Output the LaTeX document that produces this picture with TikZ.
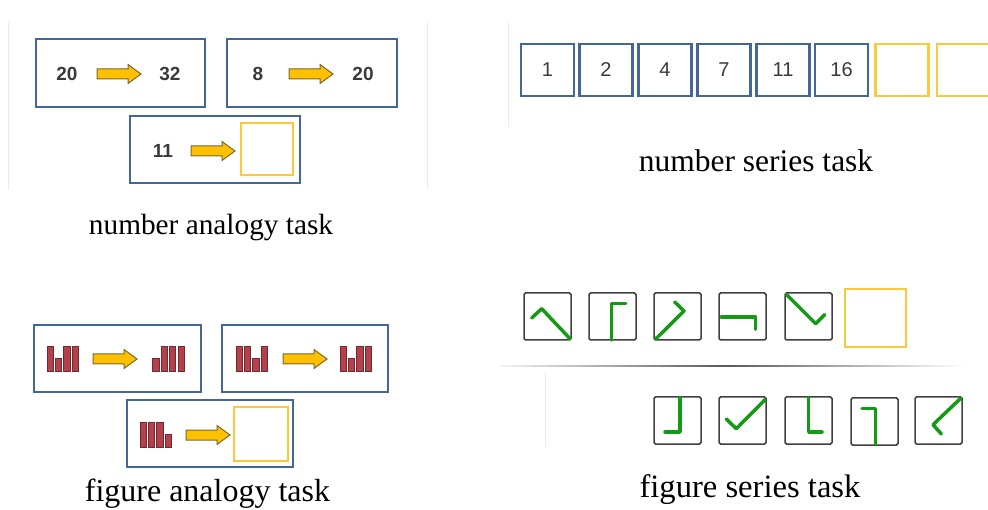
\documentclass[tikz,border=0pt]{standalone}
\usepackage{fontspec}
\setmainfont{Liberation Serif}
\newfontfamily\sansf{Liberation Sans}
\usetikzlibrary{calc}

\definecolor{frameblue}{HTML}{44679A}
\definecolor{gold}{HTML}{FFC000}
\definecolor{goldedge}{HTML}{7A6A2A}
\definecolor{emptybox}{HTML}{FFC83C}
\definecolor{barfill}{HTML}{B4404A}
\definecolor{baredge}{HTML}{6E2A33}
\definecolor{strokegreen}{HTML}{149A14}
\definecolor{textgray}{HTML}{3A3A3A}

\newcommand{\arrowlen}{44}
\tikzset{
  bluebox/.style={draw=frameblue, line width=2pt, inner sep=0pt, outer sep=0pt},
  answerbox/.style={draw=emptybox, line width=2pt, inner sep=0pt, outer sep=0pt},
  cellbox/.style={draw=frameblue, line width=2.5pt, inner sep=0pt, outer sep=0pt,
    minimum width=53pt, minimum height=52pt,
    font=\sansf\fontsize{20}{20}\selectfont, text=textgray},
  blankcell/.style={draw=emptybox, line width=2.5pt, inner sep=0pt, outer sep=0pt,
    minimum width=53pt, minimum height=52pt},
  tilebox/.style={draw=black!75, line width=1.5pt, rounded corners=1.5pt,
    inner sep=0pt, outer sep=0pt, minimum width=47pt, minimum height=47pt},
  boldnum/.style={inner sep=0pt, font=\sansf\bfseries\fontsize{19}{19}\selectfont, text=textgray},
  caption/.style={inner sep=0pt, anchor=base},
  glyph/.style={draw=strokegreen, line width=3.5pt, line cap=round, line join=round},
  bar/.style={fill=barfill, draw=baredge, line width=0.8pt},
  backline/.style={draw=black!8, line width=1pt},
  goldarrow/.pic={
    \filldraw[fill=gold, draw=goldedge, line width=1pt]
      (0,-5) -- (\arrowlen-13,-5) -- (\arrowlen-13,-9.5) -- (\arrowlen,0)
      -- (\arrowlen-13,9.5) -- (\arrowlen-13,5) -- (0,5) -- cycle;
  }
}
% a group of four bars: #1 left x, #2 bottom y, #3 list of heights
\newcommand{\bargroup}[3]{%
  \foreach \h [count=\i from 0] in {#3} {
    \path[bar] ({#1+8.4*\i},#2) rectangle ++(6.3,-\h);
  }%
}

\begin{document}
\begin{tikzpicture}[x=1pt, y=-1pt]
\useasboundingbox (0,0) rectangle (988,510);

% faint page edges behind the panels
\draw[backline] (8,22) -- (8,190);
\draw[backline] (427,22) -- (427,190);
\draw[backline] (508,22) -- (508,127);
\draw[backline] (545,372) -- (545,447);
% separator rule, darkest near the middle and fading out to both ends
\foreach \i in {0,...,60} {
  \pgfmathsetmacro{\sx}{500+8*\i}
  \pgfmathsetmacro{\tone}{max(0,65-abs(\sx+4-725)*0.27)}
  \fill[black!\tone] (\sx,365) rectangle ++(8.2,2.5);
}

% ---------- number analogy ----------
\node[bluebox, minimum width=169pt, minimum height=68pt] (na1) at (120.5,73) {};
\node[bluebox, minimum width=170pt, minimum height=68pt] (na2) at (312,73) {};
\node[bluebox, minimum width=170pt, minimum height=67pt] (na3) at (215,149.5) {};
\node[answerbox, minimum width=52pt, minimum height=52pt] (naq) at (267,149) {};

\node[boldnum] (a1) at (67,74) {20};
\node[boldnum] (b1) at (170,74) {32};
\node[boldnum] (a2) at (258,74) {8};
\node[boldnum] (b2) at (363,74) {20};
\node[boldnum] (a3) at (163,151) {11};
\pic at (97,74) {goldarrow};
\pic at (289,74) {goldarrow};
\pic at (191,151) {goldarrow};

\node[caption, font=\fontsize{29.3}{30}\selectfont] (capna) at (211,235) {number analogy task};

% ---------- number series ----------
\foreach \n/\cx [count=\k] in {1/547.5, 2/606, 4/665, 7/724, 11/783, 16/841.5} {
  \node[cellbox] (ns\k) at (\cx,70) {\n};
}
\node[blankcell] (ns7) at (902,70) {};
\node[blankcell] (ns8) at (963.5,70) {};

\node[caption, font=\fontsize{31.5}{32}\selectfont] (capns) at (756,172) {number series task};

% ---------- figure analogy ----------
\node[bluebox, minimum width=167pt, minimum height=67pt] (fa1) at (117.5,358.5) {};
\node[bluebox, minimum width=166pt, minimum height=67pt] (fa2) at (305,358.5) {};
\node[bluebox, minimum width=166pt, minimum height=67pt] (fa3) at (210,433.5) {};
\node[answerbox, minimum width=54pt, minimum height=54pt] (faq) at (261,434) {};

\bargroup{47}{371.5}{25,13,25,25}
\bargroup{152.7}{371.5}{13,25,25,25}
\bargroup{236}{371.5}{25,25,13,25}
\bargroup{340}{371.5}{25,13,25,25}
\bargroup{140}{447}{25,25,25,13}
\pic at (93,359) {goldarrow};
\pic at (283,359) {goldarrow};
\pic at (186,435) {goldarrow};

\node[caption, font=\fontsize{32}{32}\selectfont] (capfa) at (207.5,501) {figure analogy task};

% ---------- figure series ----------
\node[tilebox] (fs1) at (547.5,316.5) {};
\node[tilebox] (fs2) at (612.5,316.5) {};
\node[tilebox] (fs3) at (677.5,316.5) {};
\node[tilebox] (fs4) at (742.5,316.5) {};
\node[tilebox] (fs5) at (808.5,316.5) {};
\node[answerbox, minimum width=61pt, minimum height=58pt] (fsq) at (875.5,318) {};

\node[tilebox] (ch1) at (677.5,420.5) {};
\node[tilebox] (ch2) at (742.5,420.5) {};
\node[tilebox] (ch3) at (808.5,420.5) {};
\node[tilebox] (ch4) at (874.5,421.5) {};
\node[tilebox] (ch5) at (938.5,420.5) {};

% strokes, in each tile's own frame (origin at its top-left corner)
\begin{scope}[shift={(fs1.north west)}]
  \draw[glyph] (7.7,25) -- (17.7,15.7) -- (46,45.7);
\end{scope}
\begin{scope}[shift={(fs2.north west)}]
  \draw[glyph] (22.3,47) -- (22.3,10.7) -- (36.7,10.7);
\end{scope}
\begin{scope}[shift={(fs3.north west)}]
  \draw[glyph] (1.7,46) -- (30,18) -- (20.7,9);
\end{scope}
\begin{scope}[shift={(fs4.north west)}]
  \draw[glyph] (2.3,24) -- (36.7,24) -- (36.7,36.3);
\end{scope}
\begin{scope}[shift={(fs5.north west)}]
  \draw[glyph] (1.3,1.3) -- (30.7,30.7) -- (39.7,21.7);
\end{scope}

\begin{scope}[shift={(ch1.north west)}]
  \draw[glyph] (26,0.5) -- (26,35) -- (11,35);
\end{scope}
\begin{scope}[shift={(ch2.north west)}]
  \draw[glyph] (7.3,22) -- (17.3,31.7) -- (46,2.7);
\end{scope}
\begin{scope}[shift={(ch3.north west)}]
  \draw[glyph] (23.7,0.5) -- (23.7,35) -- (37,35);
\end{scope}
\begin{scope}[shift={(ch4.north west)}]
  \draw[glyph] (11,10.3) -- (24.3,10.3) -- (24.3,46.5);
\end{scope}
\begin{scope}[shift={(ch5.north west)}]
  \draw[glyph] (46,1) -- (18,27.7) -- (26.3,37);
\end{scope}

\node[caption, font=\fontsize{32.6}{33}\selectfont] (capfs) at (750,497) {figure series task};
\end{tikzpicture}
\end{document}
